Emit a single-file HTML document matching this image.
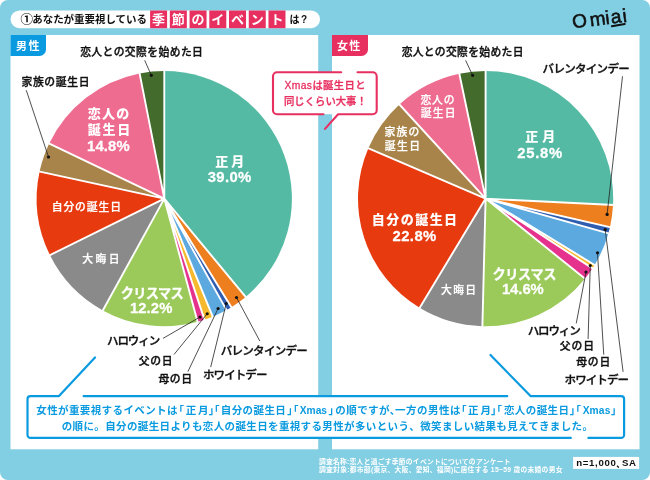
<!DOCTYPE html>
<html lang="ja">
<head>
<meta charset="utf-8">
<title>あなたが重要視している季節のイベントは?</title>
<style>
html,body{margin:0;padding:0;background:#fff;}
body{width:650px;height:480px;overflow:hidden;}
svg{display:block;font-family:"Liberation Sans","Noto Sans CJK JP",sans-serif;}
</style>
</head>
<body>
<svg width="650" height="480" viewBox="0 0 650 480" role="img" aria-label="あなたが重要視している季節のイベントは?">
<rect x="0" y="0" width="650" height="480" rx="8" ry="8" fill="#82cee3"/>
<rect x="10.6" y="10.5" width="309.4" height="17.7" rx="8.85" fill="#fff"/>
<rect x="150.10" y="10.5" width="17" height="17.7" fill="#e83060"/>
<rect x="169.83" y="10.5" width="17" height="17.7" fill="#e83060"/>
<rect x="189.56" y="10.5" width="17" height="17.7" fill="#e83060"/>
<rect x="209.29" y="10.5" width="17" height="17.7" fill="#e83060"/>
<rect x="229.02" y="10.5" width="17" height="17.7" fill="#e83060"/>
<rect x="248.75" y="10.5" width="17" height="17.7" fill="#e83060"/>
<rect x="268.48" y="10.5" width="17" height="17.7" fill="#e83060"/>
<text x="152.1" y="24.2" font-size="13" font-weight="700" fill="#fff" letter-spacing="6.73">季節のイベント</text>
<rect x="10.5" y="35" width="307.7" height="414.3" fill="#fff"/>
<rect x="332" y="35" width="307.5" height="414.3" fill="#fff"/>
<path d="M10.5,35H46V49.5a6.5,6.5 0 0 1 -6.5,6.5H10.5Z" fill="#0a9adf"/>
<path d="M332,35H368V49.5a6.5,6.5 0 0 1 -6.5,6.5H332Z" fill="#e83060"/>
<path d="M164.3,198.6L164.30,71.00A127.6,127.6 0 0 1 245.64,296.92Z" fill="#55baa4"/>
<path d="M164.3,198.6L245.64,296.92A127.6,127.6 0 0 1 231.31,307.19Z" fill="#ee7f1f"/>
<path d="M164.3,198.6L231.31,307.19A127.6,127.6 0 0 1 226.47,310.03Z" fill="#2f5db0"/>
<path d="M164.3,198.6L226.47,310.03A127.6,127.6 0 0 1 212.76,316.64Z" fill="#5ca9e0"/>
<path d="M164.3,198.6L212.76,316.64A127.6,127.6 0 0 1 204.49,319.70Z" fill="#f6b92d"/>
<path d="M164.3,198.6L204.49,319.70A127.6,127.6 0 0 1 197.58,321.78Z" fill="#e5338d"/>
<path d="M164.3,198.6L197.58,321.78A127.6,127.6 0 0 1 102.83,310.42Z" fill="#9bca5a"/>
<path d="M164.3,198.6L102.83,310.42A127.6,127.6 0 0 1 49.89,255.10Z" fill="#8a8a8a"/>
<path d="M164.3,198.6L49.89,255.10A127.6,127.6 0 0 1 39.60,171.55Z" fill="#e83a0f"/>
<path d="M164.3,198.6L39.60,171.55A127.6,127.6 0 0 1 49.19,143.55Z" fill="#a8844a"/>
<path d="M164.3,198.6L49.19,143.55A127.6,127.6 0 0 1 139.60,73.41Z" fill="#ee6c90"/>
<path d="M164.3,198.6L139.60,73.41A127.6,127.6 0 0 1 164.30,71.00Z" fill="#426b2c"/>
<path d="M164.3,198.6L164.30,70.00M164.3,198.6L246.27,297.69M164.3,198.6L231.84,308.04M164.3,198.6L226.96,310.90M164.3,198.6L213.14,317.56M164.3,198.6L204.81,320.65M164.3,198.6L197.84,322.75M164.3,198.6L102.35,311.29M164.3,198.6L48.99,255.54M164.3,198.6L38.62,171.34M164.3,198.6L48.29,143.11M164.3,198.6L139.41,72.43" stroke="#fff" stroke-width="1.9" fill="none"/>
<path d="M485.6,198.6L485.60,71.00A127.6,127.6 0 0 1 613.04,205.01Z" fill="#55baa4"/>
<path d="M485.6,198.6L613.04,205.01A127.6,127.6 0 0 1 609.95,227.22Z" fill="#ee7f1f"/>
<path d="M485.6,198.6L609.95,227.22A127.6,127.6 0 0 1 608.35,233.43Z" fill="#2f5db0"/>
<path d="M485.6,198.6L608.35,233.43A127.6,127.6 0 0 1 594.61,264.93Z" fill="#5ca9e0"/>
<path d="M485.6,198.6L594.61,264.93A127.6,127.6 0 0 1 592.47,268.32Z" fill="#f6b92d"/>
<path d="M485.6,198.6L592.47,268.32A127.6,127.6 0 0 1 584.93,278.69Z" fill="#e5338d"/>
<path d="M485.6,198.6L584.93,278.69A127.6,127.6 0 0 1 482.39,326.16Z" fill="#9bca5a"/>
<path d="M485.6,198.6L482.39,326.16A127.6,127.6 0 0 1 419.61,307.81Z" fill="#8a8a8a"/>
<path d="M485.6,198.6L419.61,307.81A127.6,127.6 0 0 1 368.34,148.29Z" fill="#e83a0f"/>
<path d="M485.6,198.6L368.34,148.29A127.6,127.6 0 0 1 399.43,104.49Z" fill="#a8844a"/>
<path d="M485.6,198.6L399.43,104.49A127.6,127.6 0 0 1 459.33,73.73Z" fill="#ee6c90"/>
<path d="M485.6,198.6L459.33,73.73A127.6,127.6 0 0 1 485.60,71.00Z" fill="#426b2c"/>
<path d="M485.6,198.6L485.60,70.00M485.6,198.6L614.04,205.06M485.6,198.6L610.92,227.44M485.6,198.6L609.32,233.70M485.6,198.6L595.46,265.45M485.6,198.6L593.31,268.87M485.6,198.6L585.71,279.32M485.6,198.6L482.37,327.16M485.6,198.6L419.10,308.67M485.6,198.6L367.42,147.90M485.6,198.6L398.75,103.76M485.6,198.6L459.13,72.75" stroke="#fff" stroke-width="1.9" fill="none"/>
<path d="M144.7,60.3L151.3,75.3M26.25,90.2L48.5,157M163,338.4L200,317M174,354.5L207.2,313.75M187.9,371.6L218.1,308.5M210.7,367.1L226.25,303.5M259.8,341L236.5,297.5M465.6,60.3L472.6,75.3M622.5,76.25L607.1,214.4M576.25,323.4L586,272M588.1,339L590.25,265.6M603.75,354.7L597.5,252.75M623.1,371.9L605.2,229.6" stroke="#222" stroke-width="0.8" fill="none"/>
<circle cx="151.3" cy="75.3" r="1.6" fill="#111"/>
<circle cx="48.5" cy="157" r="1.6" fill="#111"/>
<circle cx="200" cy="317" r="1.6" fill="#111"/>
<circle cx="207.2" cy="313.75" r="1.6" fill="#111"/>
<circle cx="218.1" cy="308.5" r="1.6" fill="#111"/>
<circle cx="226.25" cy="303.5" r="1.6" fill="#111"/>
<circle cx="236.5" cy="297.5" r="1.6" fill="#111"/>
<circle cx="472.6" cy="75.3" r="1.6" fill="#111"/>
<circle cx="607.1" cy="214.4" r="1.6" fill="#111"/>
<circle cx="586" cy="272" r="1.6" fill="#111"/>
<circle cx="590.25" cy="265.6" r="1.6" fill="#111"/>
<circle cx="597.5" cy="252.75" r="1.6" fill="#111"/>
<circle cx="605.2" cy="229.6" r="1.6" fill="#111"/>
<rect x="273" y="72.3" width="103.7" height="41.9" rx="4" fill="#fff"/>
<path d="M341.2,72.3H277a4,4 0 0 0 -4,4V110.2a4,4 0 0 0 4,4H323.5M325,128.9L338.1,114.2H372.7a4,4 0 0 0 4,-4V76.3a4,4 0 0 0 -4,-4H357.5" fill="none" stroke="#e83060" stroke-width="2.1" stroke-linecap="round" stroke-linejoin="round"/>
<rect x="573.1" y="456.9" width="66" height="12" fill="#fff"/>
<text x="20.55" y="23.79" font-size="12.5" font-weight="700" fill="#111" letter-spacing="0.00">①</text>
<text x="32.25" y="23.12" font-size="10.5" font-weight="700" fill="#111" letter-spacing="-0.05">あなたが重要視している</text>
<text x="289.50" y="22.65" font-size="10" font-weight="700" fill="#111" letter-spacing="1.50">は?</text>
<text x="16.12" y="49.83" font-size="11" font-weight="700" fill="#fff" letter-spacing="1.45">男性</text>
<text x="336.95" y="50.23" font-size="11" font-weight="700" fill="#fff" letter-spacing="1.32">女性</text>
<text x="80.13" y="55.67" font-size="10.8" font-weight="500" fill="#111" letter-spacing="0.41" stroke="#111" stroke-width="0.35" stroke-linejoin="round">恋人との交際を始めた日</text>
<text x="21.44" y="86.30" font-size="10.8" font-weight="500" fill="#111" letter-spacing="0.66" stroke="#111" stroke-width="0.35" stroke-linejoin="round">家族の誕生日</text>
<text x="107.01" y="344.67" font-size="11.5" font-weight="500" fill="#111" letter-spacing="-1.09" stroke="#111" stroke-width="0.35" stroke-linejoin="round">ハロウィン</text>
<text x="138.64" y="364.72" font-size="10.8" font-weight="500" fill="#111" letter-spacing="0.71" stroke="#111" stroke-width="0.35" stroke-linejoin="round">父の日</text>
<text x="158.41" y="382.68" font-size="10.8" font-weight="500" fill="#111" letter-spacing="0.67" stroke="#111" stroke-width="0.35" stroke-linejoin="round">母の日</text>
<text x="202.91" y="379.30" font-size="11.5" font-weight="500" fill="#111" letter-spacing="-0.89" stroke="#111" stroke-width="0.35" stroke-linejoin="round">ホワイトデー</text>
<text x="220.70" y="354.50" font-size="11.5" font-weight="500" fill="#111" letter-spacing="-0.70" stroke="#111" stroke-width="0.35" stroke-linejoin="round">バレンタインデー</text>
<text x="215.35" y="165.61" font-size="13" font-weight="900" fill="#fff" letter-spacing="3.00">正月</text>
<text transform="translate(207.65,182.45) scale(1.06,1)" font-size="14" font-weight="700" fill="#fff" letter-spacing="0.37" stroke="#fff" stroke-width="0.25" stroke-linejoin="round">39.0%</text>
<text x="87.77" y="118.08" font-size="13" font-weight="900" fill="#fff" letter-spacing="1.25">恋人の</text>
<text x="87.77" y="134.18" font-size="13" font-weight="900" fill="#fff" letter-spacing="1.74">誕生日</text>
<text transform="translate(87.01,151.05) scale(1.06,1)" font-size="14" font-weight="700" fill="#fff" letter-spacing="0.14" stroke="#fff" stroke-width="0.25" stroke-linejoin="round">14.8%</text>
<text x="51.71" y="211.05" font-size="10.8" font-weight="500" fill="#fff" letter-spacing="0.90" stroke="#fff" stroke-width="0.25" stroke-linejoin="round">自分の誕生日</text>
<text x="82.28" y="262.80" font-size="10.8" font-weight="500" fill="#fff" letter-spacing="2.40" stroke="#fff" stroke-width="0.25" stroke-linejoin="round">大晦日</text>
<text x="120.86" y="297.90" font-size="13.2" font-weight="700" fill="#fff" letter-spacing="-0.69" stroke="#fff" stroke-width="0.3" stroke-linejoin="round">クリスマス</text>
<text transform="translate(129.91,313.20) scale(1.06,1)" font-size="14" font-weight="700" fill="#fff" letter-spacing="0.10" stroke="#fff" stroke-width="0.25" stroke-linejoin="round">12.2%</text>
<text x="284.49" y="89.36" font-size="10.3" font-weight="500" fill="#e83060" letter-spacing="0.40" stroke="#e83060" stroke-width="0.3" stroke-linejoin="round">Xmasは誕生日と</text>
<text x="283.98" y="104.56" font-size="10.3" font-weight="500" fill="#e83060" letter-spacing="0.06" stroke="#e83060" stroke-width="0.3" stroke-linejoin="round">同じくらい大事！</text>
<text x="401.63" y="55.67" font-size="10.8" font-weight="500" fill="#111" letter-spacing="0.32" stroke="#111" stroke-width="0.35" stroke-linejoin="round">恋人との交際を始めた日</text>
<text x="542.60" y="73.35" font-size="11.5" font-weight="500" fill="#111" letter-spacing="-0.70" stroke="#111" stroke-width="0.35" stroke-linejoin="round">バレンタインデー</text>
<text x="527.71" y="334.97" font-size="11.5" font-weight="500" fill="#111" letter-spacing="-1.11" stroke="#111" stroke-width="0.35" stroke-linejoin="round">ハロウィン</text>
<text x="559.63" y="350.02" font-size="10.8" font-weight="500" fill="#111" letter-spacing="1.00" stroke="#111" stroke-width="0.35" stroke-linejoin="round">父の日</text>
<text x="576.15" y="365.50" font-size="10.8" font-weight="500" fill="#111" letter-spacing="0.85" stroke="#111" stroke-width="0.35" stroke-linejoin="round">母の日</text>
<text x="564.61" y="383.80" font-size="11.5" font-weight="500" fill="#111" letter-spacing="-0.93" stroke="#111" stroke-width="0.35" stroke-linejoin="round">ホワイトデー</text>
<text x="525.15" y="141.16" font-size="13" font-weight="900" fill="#fff" letter-spacing="4.10">正月</text>
<text transform="translate(517.25,158.00) scale(1.06,1)" font-size="14" font-weight="700" fill="#fff" letter-spacing="0.67" stroke="#fff" stroke-width="0.25" stroke-linejoin="round">25.8%</text>
<text x="420.38" y="103.65" font-size="10.8" font-weight="500" fill="#fff" letter-spacing="0.95" stroke="#fff" stroke-width="0.25" stroke-linejoin="round">恋人の</text>
<text x="420.66" y="117.35" font-size="10.8" font-weight="500" fill="#fff" letter-spacing="1.22" stroke="#fff" stroke-width="0.25" stroke-linejoin="round">誕生日</text>
<text x="384.38" y="136.35" font-size="10.8" font-weight="500" fill="#fff" letter-spacing="1.25" stroke="#fff" stroke-width="0.25" stroke-linejoin="round">家族の</text>
<text x="384.66" y="150.30" font-size="10.8" font-weight="500" fill="#fff" letter-spacing="1.52" stroke="#fff" stroke-width="0.25" stroke-linejoin="round">誕生日</text>
<text x="371.68" y="224.03" font-size="13" font-weight="900" fill="#fff" letter-spacing="1.49">自分の誕生日</text>
<text transform="translate(392.45,240.60) scale(1.06,1)" font-size="14" font-weight="700" fill="#fff" letter-spacing="0.42" stroke="#fff" stroke-width="0.25" stroke-linejoin="round">22.8%</text>
<text x="441.08" y="294.05" font-size="10.8" font-weight="500" fill="#fff" letter-spacing="1.35" stroke="#fff" stroke-width="0.25" stroke-linejoin="round">大晦日</text>
<text x="492.46" y="278.70" font-size="13.2" font-weight="700" fill="#fff" letter-spacing="-0.39" stroke="#fff" stroke-width="0.3" stroke-linejoin="round">クリスマス</text>
<text transform="translate(501.91,293.88) scale(1.06,1)" font-size="14" font-weight="700" fill="#fff" letter-spacing="-0.04" stroke="#fff" stroke-width="0.25" stroke-linejoin="round">14.6%</text>
<text transform="translate(576.28,465.63) scale(1.05,1)" font-size="9.2" font-weight="700" fill="#111" letter-spacing="0.61">n=1,000</text>
<text x="616.20" y="466.84" font-size="8.5" font-weight="700" fill="#111" letter-spacing="0.00">、</text>
<text transform="translate(622.02,466.32) scale(1.05,1)" font-size="9.2" font-weight="700" fill="#111" letter-spacing="0.52">SA</text>
<rect x="27.5" y="396.1" width="596.6" height="41.8" rx="3" fill="#fff"/>
<path d="M95,357.5L59,396.1H30.5a3,3 0 0 0 -3,3V434.9a3,3 0 0 0 3,3H570.8M588.4,437.9H621.1a3,3 0 0 0 3,-3V399.1a3,3 0 0 0 -3,-3H530.5L490.5,355M83.6,396.1H507.3" fill="none" stroke="#0a9adf" stroke-width="2.2" stroke-linecap="round" stroke-linejoin="round"/>
<text y="414.1" font-size="10.5" font-weight="700" fill="#0a9adf" style="font-feature-settings:'halt'"><tspan x="36.27" letter-spacing="0.39">女性が重要視するイベントは</tspan><tspan x="178.72" letter-spacing="0.00">「</tspan><tspan x="185.67" letter-spacing="1.80">正月</tspan><tspan x="208.68" letter-spacing="0.00">」</tspan><tspan x="214.22" letter-spacing="0.00">「</tspan><tspan x="220.73" letter-spacing="0.43">自分の誕生日</tspan><tspan x="287.23" letter-spacing="0.00">」</tspan><tspan x="293.37" letter-spacing="0.00">「</tspan><tspan x="299.75" letter-spacing="0.03" font-size="10.2">Xmas</tspan><tspan x="328.38" letter-spacing="0.00">」</tspan><tspan x="335.31" letter-spacing="0.44">の順ですが</tspan><tspan x="389.65" letter-spacing="0.00">、</tspan><tspan x="394.88" letter-spacing="0.53">一方の男性は</tspan><tspan x="461.17" letter-spacing="0.00">「</tspan><tspan x="467.98" letter-spacing="2.00">正月</tspan><tspan x="491.08" letter-spacing="0.00">」</tspan><tspan x="496.67" letter-spacing="0.00">「</tspan><tspan x="503.94" letter-spacing="0.41">恋人の誕生日</tspan><tspan x="569.83" letter-spacing="0.00">」</tspan><tspan x="575.72" letter-spacing="0.00">「</tspan><tspan x="582.64" letter-spacing="0.19" font-size="10.2">Xmas</tspan><tspan x="611.08" letter-spacing="0.00">」</tspan></text>
<text x="61.7" y="429.6" font-size="10.5" font-weight="700" fill="#0a9adf" letter-spacing="0.37">の順に。自分の誕生日よりも恋人の誕生日を重視する男性が多いという、微笑ましい結果も見えてきました。</text>
<text x="319" y="464" font-size="6.8" font-weight="700" fill="#fff" textLength="191.5" lengthAdjust="spacing">調査名称:恋人と過ごす季節のイベントについてのアンケート</text>
<text x="319" y="472" font-size="6.8" font-weight="700" fill="#fff" textLength="243.5" lengthAdjust="spacing">調査対象:都市部(東京、大阪、愛知、福岡)に居住する 15~59 歳の未婚の男女</text>
<text transform="translate(573,28.3) rotate(-7)" font-size="19" font-weight="400" fill="#111" stroke="#111" stroke-width="0.55" letter-spacing="1.27">O<tspan dx="1.5">m</tspan><tspan dx="-1.5">i</tspan>ai</text>
<path d="M611.8,26.2L624.8,24" stroke="#111" stroke-width="1.9" stroke-linecap="round"/>
</svg>
</body>
</html>
